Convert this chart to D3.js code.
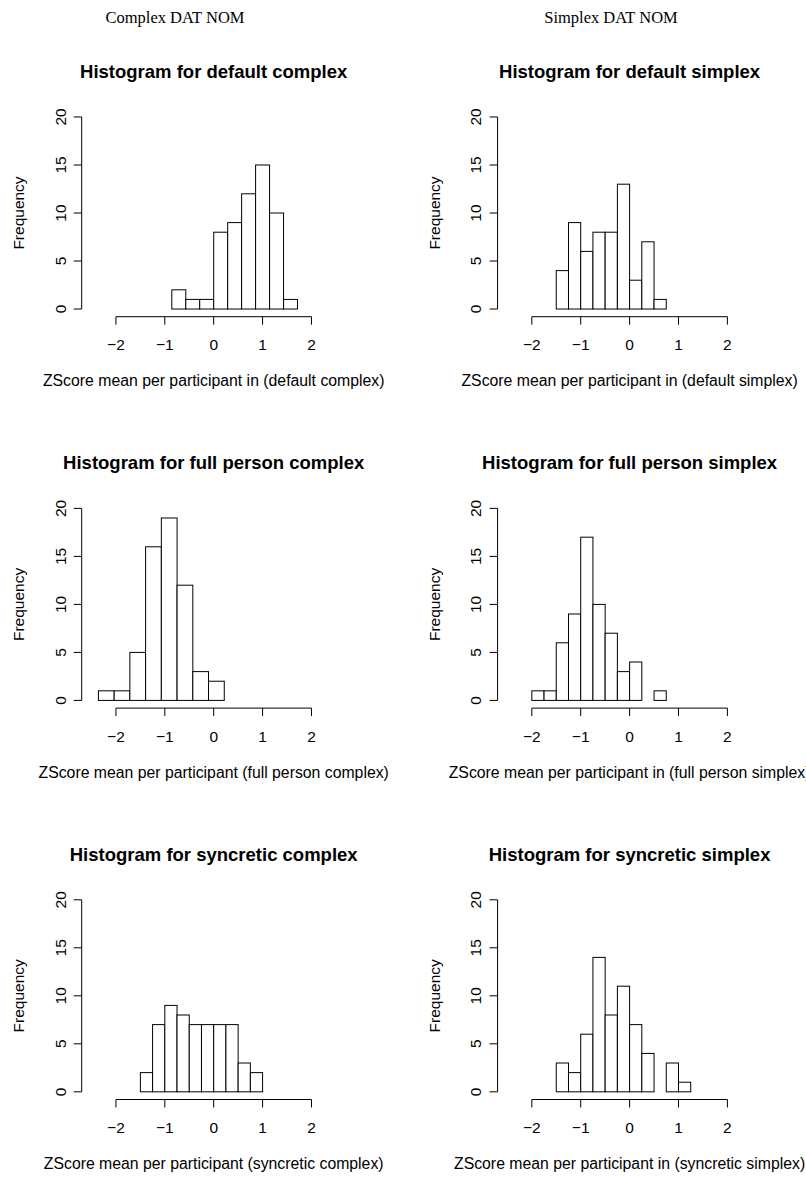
<!DOCTYPE html>
<html>
<head>
<meta charset="utf-8">
<script src="https://cdn.jsdelivr.net/npm/d3@7"></script>
<style>
  html, body { margin: 0; padding: 0; background: #fff; }
  svg { display: block; }
  .sans { font-family: "Liberation Sans", Arial, Helvetica, sans-serif; }
  .serif { font-family: "Liberation Serif", "Times New Roman", serif; }
</style>
</head>
<body>
<svg id="chart" width="806" height="1179"></svg>
<script>
// Column headings
const columnHeadings = ["Complex DAT NOM", "Simplex DAT NOM"];

// Panel titles and x-axis titles (row-major: left column, right column)
const panelTitles = [
  "Histogram for default complex", "Histogram for default simplex",
  "Histogram for full person complex", "Histogram for full person simplex",
  "Histogram for syncretic complex", "Histogram for syncretic simplex"
];
const xTitles = [
  "ZScore mean per participant in (default complex)", "ZScore mean per participant in (default simplex)",
  "ZScore mean per participant (full person complex)", "ZScore mean per participant in (full person simplex)",
  "ZScore mean per participant (syncretic complex)", "ZScore mean per participant in (syncretic simplex)"
];

// Bin breaks
const breaksDefaultComplex = [-2, -1.714, -1.429, -1.143, -0.857, -0.571, -0.286, 0, 0.286, 0.571, 0.857, 1.143, 1.429, 1.714, 2];
const breaksQuarter = [-2, -1.75, -1.5, -1.25, -1, -0.75, -0.5, -0.25, 0, 0.25, 0.5, 0.75, 1, 1.25, 1.5];
const breaksFullPersonComplex = [-2.68, -2.358, -2.036, -1.715, -1.393, -1.071, -0.749, -0.427, -0.106, 0.216, 0.538, 0.86, 1.182, 1.503];

// Bin counts
const countsDefaultComplex    = [0, 0, 0, 0, 2, 1, 1, 8, 9, 12, 15, 10, 1, 0];
const countsDefaultSimplex    = [0, 0, 4, 9, 6, 8, 8, 13, 3, 7, 1, 0, 0, 0];
const countsFullPersonComplex = [0, 1, 1, 5, 16, 19, 12, 3, 2, 0, 0, 0, 0];
const countsFullPersonSimplex = [1, 1, 6, 9, 17, 10, 7, 3, 4, 0, 1, 0, 0, 0];
const countsSyncreticComplex  = [0, 0, 2, 7, 9, 8, 7, 7, 7, 7, 3, 2, 0, 0];
const countsSyncreticSimplex  = [0, 0, 3, 2, 6, 14, 8, 11, 7, 4, 0, 3, 1, 0];

// Axis ticks
const xTickValues = [-2, -1, 0, 1, 2];
const xTickLabels = ["\u22122", "\u22121", "0", "1", "2"];
const yTickValues = [0, 5, 10, 15, 20];
const yTickLabels = ["0", "5", "10", "15", "20"];

const panelBreaks = [breaksDefaultComplex, breaksQuarter, breaksFullPersonComplex, breaksQuarter, breaksQuarter, breaksQuarter];
const panelCounts = [countsDefaultComplex, countsDefaultSimplex, countsFullPersonComplex, countsFullPersonSimplex, countsSyncreticComplex, countsSyncreticSimplex];

// Layout
const colLeft = [81.7, 497.6];
const rowTop = [109.3, 500.7, 892.1];
const plotW = 264, plotH = 207.4;
const xDomain = [-2.7, 2.7], yDomain = [-0.8, 20.8];
const tickLen = 8;

const svg = d3.select("#chart");

columnHeadings.forEach((t, i) => {
  svg.append("text").attr("class", "serif")
    .attr("x", [175, 611][i]).attr("y", 23)
    .attr("text-anchor", "middle").attr("font-size", 16.5).attr("fill", "#000")
    .text(t);
});

panelCounts.forEach((counts, p) => {
  const col = p % 2, row = Math.floor(p / 2);
  const left = colLeft[col], top = rowTop[row];
  const x = d3.scaleLinear().domain(xDomain).range([left, left + plotW]);
  const y = d3.scaleLinear().domain(yDomain).range([top + plotH, top]);
  const breaks = panelBreaks[p];
  const bins = counts.map((c, i) => ({ x0: breaks[i], x1: breaks[i + 1], n: c }));

  const g = svg.append("g");

  // bars
  g.selectAll("rect").data(bins).join("rect")
    .attr("x", d => x(d.x0))
    .attr("y", d => y(d.n))
    .attr("width", d => x(d.x1) - x(d.x0))
    .attr("height", d => y(0) - y(d.n))
    .attr("fill", "#fff")
    .attr("stroke", "#000")
    .attr("stroke-width", 1);

  // x axis
  const xa = g.append("g").attr("transform", `translate(0,${top + plotH})`);
  xa.append("line").attr("x1", x(xTickValues[0])).attr("x2", x(xTickValues[xTickValues.length - 1]))
    .attr("stroke", "#000");
  xTickValues.forEach((v, i) => {
    xa.append("line").attr("x1", x(v)).attr("x2", x(v)).attr("y1", 0).attr("y2", tickLen).attr("stroke", "#000");
    xa.append("text").attr("class", "sans").attr("x", x(v)).attr("y", 33.5)
      .attr("text-anchor", "middle").attr("font-size", 15.5).text(xTickLabels[i]);
  });

  // y axis
  const ya = g.append("g").attr("transform", `translate(${left},0)`);
  ya.append("line").attr("y1", y(yTickValues[0])).attr("y2", y(yTickValues[yTickValues.length - 1]))
    .attr("stroke", "#000");
  yTickValues.forEach((v, i) => {
    ya.append("line").attr("x1", 0).attr("x2", -tickLen).attr("y1", y(v)).attr("y2", y(v)).attr("stroke", "#000");
    ya.append("text").attr("class", "sans")
      .attr("transform", `translate(-16.2,${y(v)}) rotate(-90)`)
      .attr("text-anchor", "middle").attr("font-size", 15.5).text(yTickLabels[i]);
  });

  // titles
  g.append("text").attr("class", "sans")
    .attr("x", left + plotW / 2).attr("y", top - 31.6)
    .attr("text-anchor", "middle").attr("font-size", 18.5).attr("font-weight", "bold")
    .text(panelTitles[p]);
  g.append("text").attr("class", "sans")
    .attr("x", left + plotW / 2).attr("y", top + plotH + 69.5)
    .attr("text-anchor", "middle").attr("font-size", 15.8)
    .text(xTitles[p]);
  g.append("text").attr("class", "sans")
    .attr("transform", `translate(${left - 58},${top + plotH / 2}) rotate(-90)`)
    .attr("text-anchor", "middle").attr("font-size", 15.5)
    .text("Frequency");
});
</script>
</body>
</html>
